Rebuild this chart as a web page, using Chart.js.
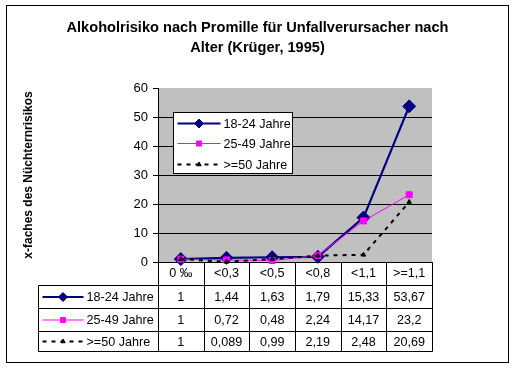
<!DOCTYPE html>
<html><head><meta charset="utf-8">
<script src="https://cdn.jsdelivr.net/npm/chart.js@4/dist/chart.umd.min.js"></script>
<style>html,body{margin:0;padding:0;background:#fff}canvas{display:block}</style>
</head><body>
<canvas id="c" width="531" height="376"></canvas>
<script>
// ---- data ----
const categories = ['0 ‰', '<0,3', '<0,5', '<0,8', '<1,1', '>=1,1'];
const seriesNames = ['18-24 Jahre', '25-49 Jahre', '>=50 Jahre'];
const values1824 = [1, 1.44, 1.63, 1.79, 15.33, 53.67];
const values2549 = [1, 0.72, 0.48, 2.24, 14.17, 23.2];
const values50 = [1, 0.089, 0.99, 2.19, 2.48, 20.69];
const yTicks = [0, 10, 20, 30, 40, 50, 60];
const titleLines = ['Alkoholrisiko nach Promille für Unfallverursacher nach', 'Alter (Krüger, 1995)'];
const yTitle = 'x-faches des Nüchternrisikos';

const FONT = '"Liberation Sans", Arial, sans-serif';
const fmt = v => String(v).replace('.', ',');

function drawSample(ctx, ds, x1, x2, y, r) {
  ctx.save();
  ctx.strokeStyle = ds.borderColor;
  ctx.lineWidth = ds.borderWidth;
  ctx.setLineDash(ds.borderDash || []);
  ctx.beginPath(); ctx.moveTo(x1, y); ctx.lineTo(x2, y); ctx.stroke();
  ctx.setLineDash([]);
  ctx.fillStyle = ds.backgroundColor;
  ctx.strokeStyle = ds.borderColor;
  ctx.lineWidth = 1;
  Chart.helpers.drawPoint(ctx, {pointStyle: ds.pointStyle, radius: r, borderWidth: 1, rotation: 0}, (x1 + x2) / 2, y);
  ctx.restore();
}

const excelPlugin = {
  id: 'excelLook',
  beforeDraw(chart) {
    const ctx = chart.ctx, ca = chart.chartArea;
    ctx.save();
    ctx.fillStyle = '#fff';
    ctx.fillRect(0, 0, chart.width, chart.height);
    ctx.strokeStyle = '#000'; ctx.lineWidth = 1;
    ctx.strokeRect(6.5, 5.5, 502, 357);
    ctx.fillStyle = '#C0C0C0';
    ctx.fillRect(ca.left, ca.top, ca.right - ca.left, ca.bottom - ca.top);
    // title
    ctx.fillStyle = '#000';
    ctx.font = 'bold 14.6px ' + FONT;
    ctx.textAlign = 'center'; ctx.textBaseline = 'alphabetic';
    ctx.fillText(titleLines[0], 257.5, 32);
    ctx.fillText(titleLines[1], 257.5, 51.5);
    ctx.restore();
  },
  afterDraw(chart) {
    const ctx = chart.ctx, ca = chart.chartArea, xs = chart.scales.x;
    const dsets = chart.data.datasets;
    ctx.save();
    // legend box inside plot
    const bx = ca.left + 15.5, by = ca.top + 24.5, bw = 119, bh = 61;
    ctx.fillStyle = '#fff'; ctx.fillRect(bx, by, bw, bh);
    ctx.strokeStyle = '#000'; ctx.lineWidth = 1; ctx.strokeRect(bx, by, bw, bh);
    const ly = [by + 11, by + 31, by + 52];
    ctx.font = '12.6px ' + FONT; ctx.textBaseline = 'middle'; ctx.textAlign = 'left';
    dsets.forEach((ds, i) => {
      drawSample(ctx, ds, bx + 4, bx + 47, ly[i], [4.5, 3.6, 2.5][i]);
      ctx.fillStyle = '#000';
      ctx.fillText(ds.label, bx + 50, ly[i] + 1);
    });
    // data table
    const n = categories.length;
    const step = xs.getPixelForValue(1) - xs.getPixelForValue(0);
    const bounds = [];
    for (let i = 0; i <= n; i++) bounds.push(Math.round(xs.getPixelForValue(0) - step / 2 + i * step) + 0.5);
    const rowTops = [ca.bottom + 23, ca.bottom + 46, ca.bottom + 69, ca.bottom + 89].map(v => Math.round(v) + 0.5);
    const legLeft = 38.5;
    ctx.strokeStyle = '#000'; ctx.lineWidth = 1;
    ctx.beginPath();
    bounds.forEach(b => { ctx.moveTo(b, ca.bottom); ctx.lineTo(b, rowTops[3]); });
    ctx.moveTo(legLeft, rowTops[0]); ctx.lineTo(legLeft, rowTops[3]);
    rowTops.forEach(t => { ctx.moveTo(legLeft, t); ctx.lineTo(bounds[n], t); });
    ctx.stroke();
    const rows = [values1824, values2549, values50];
    ctx.font = '12.6px ' + FONT; ctx.textBaseline = 'middle';
    rows.forEach((vals, r) => {
      const cy = (rowTops[r] + rowTops[r + 1]) / 2 + 1;
      drawSample(ctx, dsets[r], legLeft + 4, legLeft + 45, cy - 1, [4.5, 3.6, 2.5][r]);
      ctx.fillStyle = '#000'; ctx.textAlign = 'left';
      ctx.fillText(dsets[r].label, legLeft + 48, cy);
      ctx.textAlign = 'center';
      vals.forEach((v, i) => ctx.fillText(fmt(v), xs.getPixelForValue(i), cy));
    });
    ctx.restore();
  }
};

new Chart(document.getElementById('c'), {
  type: 'line',
  data: {
    labels: categories,
    datasets: [
      {label: seriesNames[0], data: values1824, borderColor: '#000080', backgroundColor: '#000080',
       borderWidth: 2.2, pointStyle: 'rectRot', pointRadius: 6.5, pointBorderWidth: 1, order: 3},
      {label: seriesNames[1], data: values2549, borderColor: '#FF00FF', backgroundColor: '#FF00FF',
       borderWidth: 1, pointStyle: 'rect', pointRadius: 4.2, pointBorderWidth: 1, order: 2},
      {label: seriesNames[2], data: values50, borderColor: '#000000', backgroundColor: '#000000',
       borderWidth: 2, borderDash: [4, 5], pointStyle: 'triangle', pointRadius: 2.6, pointBorderWidth: 1, order: 1}
    ]
  },
  options: {
    responsive: false, animation: false,
    clip: false,
    layout: {padding: {top: 88, right: 99, bottom: 91, left: 0}},
    plugins: {
      legend: {display: false},
      tooltip: {enabled: false},
      title: {display: false}
    },
    scales: {
      x: {
        type: 'category', offset: true,
        grid: {display: false, drawTicks: false},
        border: {display: true, color: '#000', width: 1},
        ticks: {color: '#000', font: {family: FONT, size: 12.6}, padding: 4, maxRotation: 0, autoSkip: false},
        afterFit: s => { s.height = 23; }
      },
      y: {
        min: 0, max: 60,
        afterBuildTicks: s => { s.ticks = yTicks.map(v => ({value: v})); },
        ticks: {color: '#000', font: {family: FONT, size: 13}, padding: 5},
        grid: {color: c => (c.tick && c.tick.value === 60) ? 'rgba(0,0,0,0)' : '#000', tickColor: '#000', tickLength: 5, lineWidth: 1},
        border: {display: true, color: '#000', width: 1},
        title: {display: true, text: yTitle, color: '#000', font: {family: FONT, size: 12, weight: 'bold'}, padding: {top: 21, bottom: 0}},
        afterFit: s => { s.width = 158; }
      }
    }
  },
  plugins: [excelPlugin]
});
</script>
</body></html>
